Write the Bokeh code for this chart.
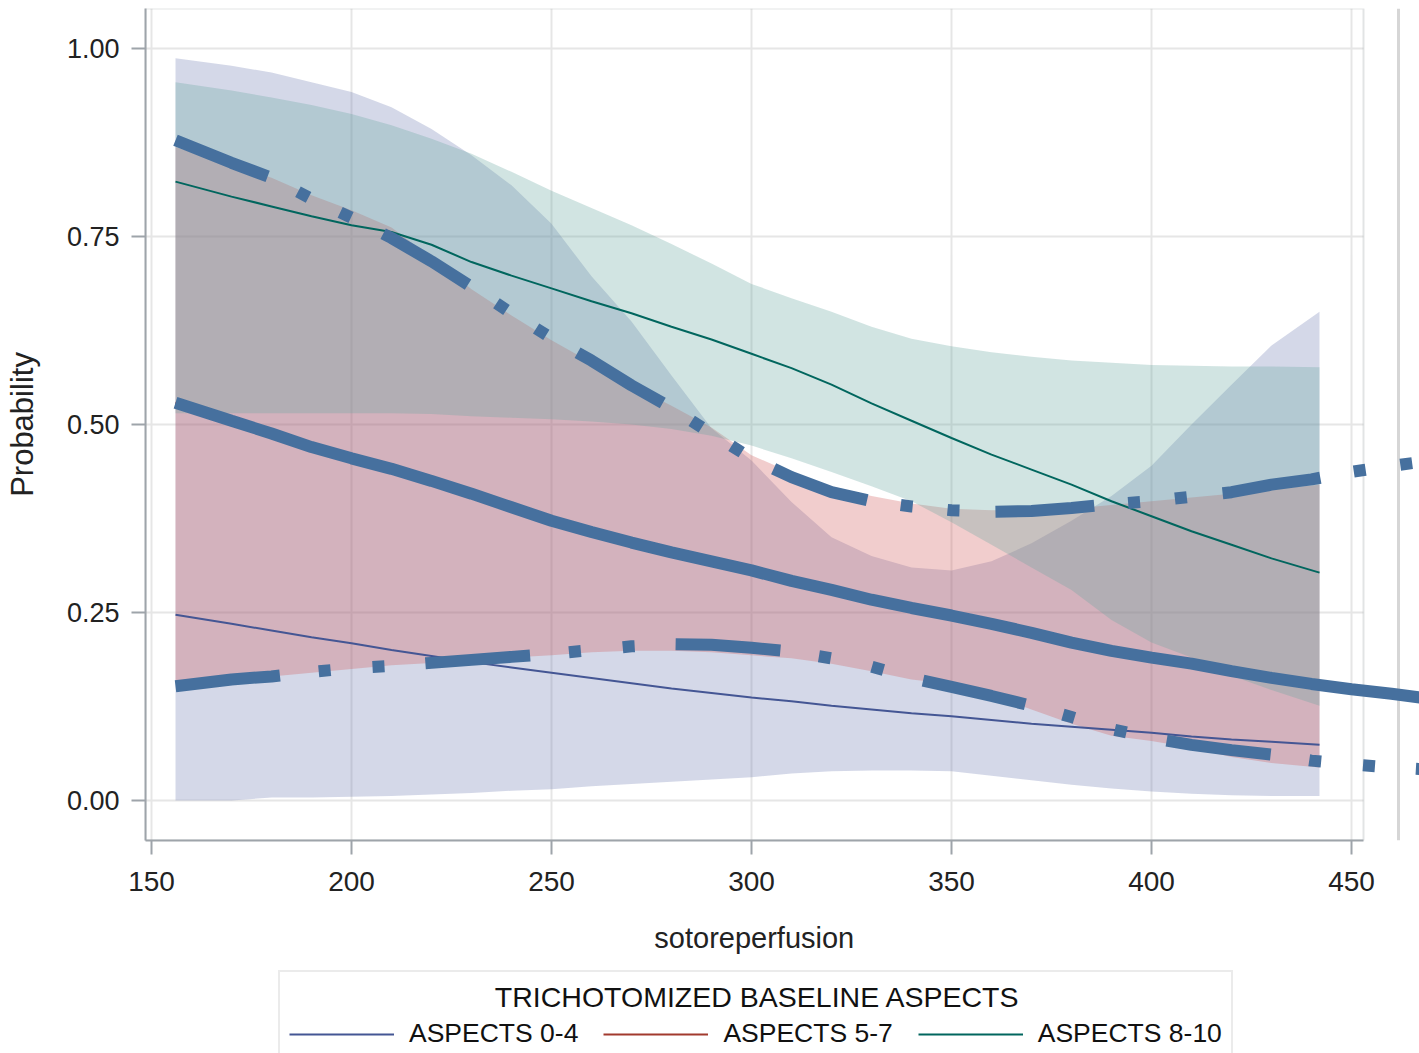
from bokeh.plotting import figure
from bokeh.layouts import column
from bokeh.models import (Range1d, FixedTicker, NumeralTickFormatter, BoxAnnotation,
                          Span, Legend, LegendItem)
from bokeh.embed import file_html
from bokeh.resources import INLINE

# ---------------- data ----------------
x_band = [156, 170, 180, 190, 200, 210, 220, 230, 240, 250, 260, 270, 280, 290, 300,
          310, 320, 330, 340, 350, 360, 370, 380, 390, 400, 410, 420, 430, 442]

blue_mid = [0.247, 0.235, 0.226, 0.217, 0.209, 0.200, 0.192, 0.184, 0.177, 0.170, 0.163, 0.156,
            0.149, 0.143, 0.137, 0.132, 0.126, 0.121, 0.116, 0.112, 0.107, 0.102, 0.098, 0.094,
            0.090, 0.085, 0.081, 0.078, 0.074]
blue_lower = [0.000, 0.000, 0.004, 0.004, 0.005, 0.006, 0.008, 0.010, 0.013, 0.015, 0.019, 0.022,
              0.025, 0.028, 0.031, 0.036, 0.039, 0.040, 0.040, 0.039, 0.033, 0.027, 0.021, 0.016,
              0.012, 0.009, 0.007, 0.006, 0.006]
blue_upper = [0.987, 0.977, 0.968, 0.955, 0.942, 0.922, 0.893, 0.858, 0.818, 0.767, 0.697, 0.637,
              0.565, 0.495, 0.452, 0.397, 0.350, 0.325, 0.310, 0.306, 0.318, 0.342, 0.372, 0.405,
              0.445, 0.500, 0.553, 0.605, 0.650]

red_mid = [0.529, 0.505, 0.488, 0.470, 0.455, 0.441, 0.425, 0.408, 0.390, 0.372, 0.357, 0.343,
           0.330, 0.318, 0.306, 0.292, 0.280, 0.267, 0.256, 0.246, 0.235, 0.223, 0.210, 0.199,
           0.190, 0.182, 0.172, 0.163, 0.154]
red_lower = [0.158, 0.162, 0.165, 0.170, 0.175, 0.180, 0.183, 0.187, 0.190, 0.193, 0.197, 0.199,
             0.199, 0.197, 0.193, 0.189, 0.182, 0.172, 0.161, 0.155, 0.140, 0.121, 0.102, 0.086,
             0.079, 0.070, 0.058, 0.050, 0.044]
red_upper = [0.869, 0.845, 0.828, 0.805, 0.785, 0.762, 0.722, 0.680, 0.645, 0.612, 0.582, 0.552,
             0.525, 0.496, 0.459, 0.436, 0.418, 0.405, 0.395, 0.388, 0.386, 0.386, 0.388, 0.393,
             0.398, 0.403, 0.408, 0.414, 0.420]

teal_mid = [0.823, 0.803, 0.790, 0.777, 0.765, 0.756, 0.739, 0.716, 0.698, 0.681, 0.664, 0.648,
            0.630, 0.613, 0.594, 0.575, 0.553, 0.528, 0.505, 0.482, 0.460, 0.440, 0.420, 0.398,
            0.378, 0.358, 0.340, 0.322, 0.303]
teal_lower = [0.515, 0.515, 0.515, 0.515, 0.515, 0.515, 0.514, 0.511, 0.509, 0.507, 0.504, 0.500,
              0.494, 0.485, 0.472, 0.455, 0.437, 0.418, 0.398, 0.370, 0.340, 0.310, 0.280, 0.240,
              0.210, 0.190, 0.166, 0.147, 0.126]
teal_upper = [0.955, 0.944, 0.935, 0.925, 0.913, 0.898, 0.880, 0.860, 0.836, 0.811, 0.788, 0.765,
              0.740, 0.714, 0.687, 0.668, 0.650, 0.630, 0.614, 0.604, 0.596, 0.590, 0.585, 0.582,
              0.579, 0.578, 0.577, 0.577, 0.576]

# thick overlaid fit (extends past the bands)
x_fit = [156, 170, 180, 190, 200, 210, 220, 230, 240, 250, 260, 270, 280, 290, 300, 310,
         320, 330, 340, 350, 360, 370, 380, 390, 400, 410, 420, 430, 440, 450, 460, 470]
fit_mid = [0.529, 0.505, 0.488, 0.470, 0.455, 0.441, 0.425, 0.408, 0.390, 0.372, 0.357, 0.343,
           0.330, 0.318, 0.306, 0.292, 0.280, 0.267, 0.256, 0.246, 0.235, 0.223, 0.210, 0.199,
           0.190, 0.182, 0.172, 0.163, 0.155, 0.148, 0.142, 0.135]
fit_upper = [0.878, 0.848, 0.828, 0.800, 0.775, 0.748, 0.717, 0.683, 0.648, 0.615, 0.585, 0.552,
             0.522, 0.488, 0.455, 0.430, 0.410, 0.398, 0.391, 0.386, 0.384, 0.385, 0.389, 0.394,
             0.398, 0.404, 0.410, 0.420, 0.427, 0.437, 0.445, 0.452]
fit_lower = [0.152, 0.161, 0.165, 0.171, 0.176, 0.179, 0.183, 0.187, 0.191, 0.195, 0.200, 0.205,
             0.208, 0.207, 0.203, 0.198, 0.189, 0.178, 0.163, 0.151, 0.139, 0.126, 0.111, 0.095,
             0.083, 0.074, 0.067, 0.061, 0.053, 0.048, 0.044, 0.041]

x_ticks = [150, 200, 250, 300, 350, 400, 450]
y_ticks = [0.0, 0.25, 0.5, 0.75, 1.0]
series_labels = ["ASPECTS 0-4", "ASPECTS 5-7", "ASPECTS 8-10"]
series_colors = ["#445694", "#A23A2E", "#01665E"]
band_colors = ["#6F7EB3", "#D05B5B", "#66A5A0"]
legend_title = "TRICHOTOMIZED BASELINE ASPECTS"
x_label = "sotoreperfusion"
y_label = "Probability"

# ---------------- styling ----------------
FONT = "Liberation Sans"
TXT = "#222222"
AXIS_GRAY = "#9ea4aa"
GRID = "#e6e6e6"
FRAME_X = (148.5, 453.0)
Y_RANGE = (-0.0532, 1.0532)
NB = "\u00a0"
MAIN_H = 970
LEG_H = 1053 - MAIN_H

p = figure(width=1419, height=MAIN_H, output_backend="svg", toolbar_location=None,
           x_range=Range1d(148.5, 467.0), y_range=Range1d(*Y_RANGE),
           min_border_left=145, min_border_right=0, min_border_top=8,
           min_border_bottom=MAIN_H - 840)
p.outline_line_color = None
p.background_fill_color = "white"
p.border_fill_color = "white"

# grid
p.xgrid.ticker = FixedTicker(ticks=x_ticks)
p.xgrid.grid_line_color = GRID
p.xgrid.grid_line_width = 2
p.ygrid.ticker = FixedTicker(ticks=y_ticks)
p.ygrid.grid_line_color = GRID
p.ygrid.grid_line_width = 2
try:
    p.ygrid.cross_bounds = FRAME_X
except Exception:
    p.ygrid.visible = False
    p.segment(x0=[FRAME_X[0]] * len(y_ticks), x1=[FRAME_X[1]] * len(y_ticks),
              y0=y_ticks, y1=y_ticks, line_color=GRID, line_width=2, level="underlay")

# frame border and the thin page line at the right
p.add_layout(BoxAnnotation(left=FRAME_X[0], right=FRAME_X[1], bottom=Y_RANGE[0], top=Y_RANGE[1],
                           fill_alpha=0, line_color=AXIS_GRAY, line_width=2, level="underlay"))
p.add_layout(Span(location=461.75, dimension="height", line_color="#d6d6d6", line_width=3,
                  level="underlay"))

# axes
xa = p.xaxis[0]
xa.ticker = FixedTicker(ticks=x_ticks)
xa.bounds = FRAME_X
xa.axis_label = x_label + NB * 7
xa.axis_label_text_font = FONT
xa.axis_label_text_font_size = "29px"
xa.axis_label_text_font_style = "normal"
xa.axis_label_text_color = TXT
xa.axis_label_standoff = 28
xa.major_label_text_font = FONT
xa.major_label_text_font_size = "28px"
xa.major_label_text_color = TXT
xa.major_label_standoff = 17
ya = p.yaxis[0]
ya.ticker = FixedTicker(ticks=y_ticks)
ya.formatter = NumeralTickFormatter(format="0.00")
ya.axis_label = y_label
ya.axis_label_text_font = FONT
ya.axis_label_text_font_size = "31px"
ya.axis_label_text_font_style = "normal"
ya.axis_label_text_color = TXT
ya.axis_label_standoff = 24
ya.major_label_text_font = FONT
ya.major_label_text_font_size = "27px"
ya.major_label_text_color = TXT
ya.major_label_standoff = 12
for ax in (xa, ya):
    ax.axis_line_color = AXIS_GRAY
    ax.axis_line_width = 2
    ax.major_tick_line_color = AXIS_GRAY
    ax.major_tick_line_width = 2
    ax.major_tick_out = 14
    ax.major_tick_in = 0
    ax.minor_tick_line_color = None

# bands
p.varea(x=x_band, y1=blue_lower, y2=blue_upper, fill_color=band_colors[0], fill_alpha=0.3)
p.varea(x=x_band, y1=red_lower, y2=red_upper, fill_color=band_colors[1], fill_alpha=0.3)
p.varea(x=x_band, y1=teal_lower, y2=teal_upper, fill_color=band_colors[2], fill_alpha=0.3)

# thin fitted lines
mids = [blue_mid, red_mid, teal_mid]
for mid, col in zip(mids, series_colors):
    p.line(x_band, mid, line_color=col, line_width=2)

# thick overlay
THICK = "#46709E"
p.line(x_fit, fit_upper, line_color=THICK, line_width=12, line_dash="99 34 12 35 12 36")
p.line(x_fit, fit_mid, line_color=THICK, line_width=12)
p.line(x_fit, fit_lower, line_color=THICK, line_width=12, line_dash="105 39 12 42 12 41")

# ---------------- legend strip (separate figure under the plot) ----------------
lf = figure(width=1419, height=LEG_H, output_backend="svg", toolbar_location=None,
            x_range=Range1d(0, 1), y_range=Range1d(0, 1), min_border=0,
            x_axis_type=None, y_axis_type=None)
lf.grid.visible = False
lf.outline_line_color = None
lf.background_fill_color = "white"
lf.border_fill_color = "white"
# same series lines (they fall outside this strip's ranges; only their legend glyphs show)
leg_renderers = [lf.line(x_band, mid, line_color=col, line_width=2)
                 for mid, col in zip(mids, series_colors)]

legend = Legend(items=[LegendItem(label=lab, renderers=[r])
                       for lab, r in zip(series_labels, leg_renderers)],
                orientation="horizontal", location=(133, -7),
                title=NB * 26 + legend_title, title_text_font=FONT,
                title_text_font_size="28.5px", title_text_font_style="normal",
                title_text_color="#111111", title_standoff=4,
                padding=9, spacing=25, glyph_width=105, glyph_height=20, label_standoff=15,
                label_text_font=FONT, label_text_font_size="26.5px", label_text_color="#111111",
                border_line_color="#d8d8d8", border_line_width=2,
                background_fill_color="white", background_fill_alpha=1, margin=0)
lf.add_layout(legend)

page = column(p, lf, spacing=0)
open("out.html", "w").write(file_html(page, INLINE))
